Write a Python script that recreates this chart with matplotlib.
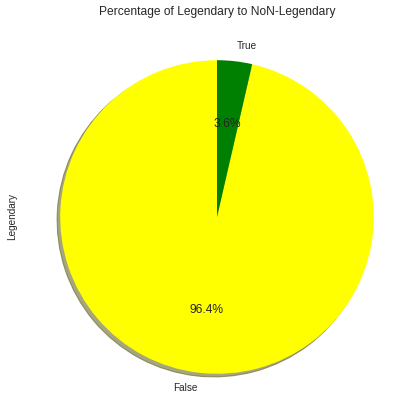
import matplotlib
matplotlib.use("Agg")
import matplotlib.pyplot as plt

plt.style.use("seaborn-v0_8-whitegrid")
plt.rcParams["font.family"] = ["Liberation Sans", "DejaVu Sans"]

labels = ["False", "True"]
values = [96.4, 3.6]
colors = ["yellow", "green"]

fig = plt.figure(figsize=(420 / 72, 420 / 72), dpi=72)
ax = fig.add_axes([21 / 420, 7 / 420, 392 / 420, 392 / 420])
wedges, texts, autotexts = ax.pie(values, labels=labels, colors=colors,
                                  autopct="%1.1f%%", shadow=True, startangle=90)
for t in autotexts:
    t.set_fontsize(12)
ax.set_ylabel("Legendary")
ax.set_title("Percentage of Legendary to NoN-Legendary")
fig.savefig("out.png", dpi=72)
